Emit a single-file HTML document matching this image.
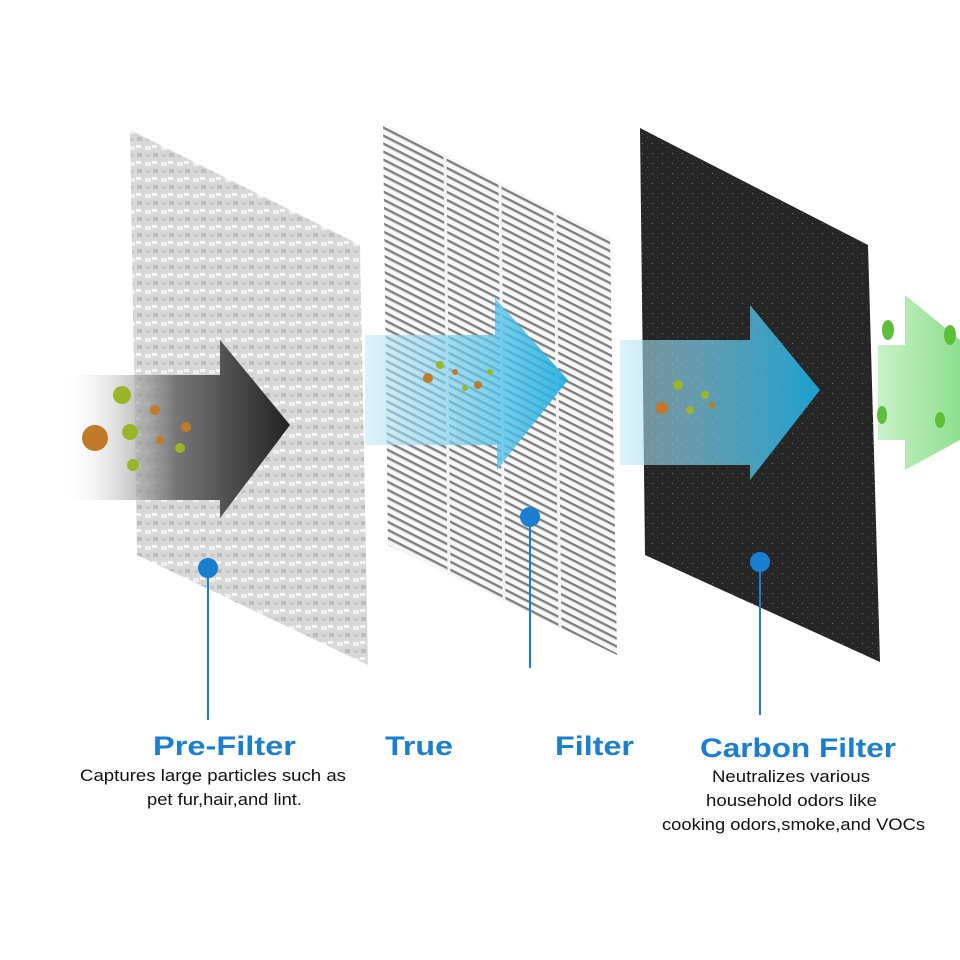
<!DOCTYPE html>
<html><head><meta charset="utf-8"><style>
body{margin:0;background:#fff}
svg{display:block}
text{font-family:"Liberation Sans",sans-serif}
</style></head><body>
<svg width="960" height="960" viewBox="0 0 960 960" xmlns="http://www.w3.org/2000/svg">
<defs>
<pattern id="slats" width="20" height="8" patternUnits="userSpaceOnUse" patternTransform="skewY(27)">
<rect width="20" height="8" fill="#f7f7f7"/>
<rect y="3" width="20" height="2" fill="#7a7a7a"/>
<rect y="5" width="20" height="1" fill="#b0b0b0"/>
</pattern>
<pattern id="noise" width="16" height="16" patternUnits="userSpaceOnUse">
<rect width="16" height="16" fill="#d8d8d8"/>
<rect x="1" y="2" width="6" height="4" fill="#efefef"/>
<rect x="9" y="9" width="5" height="4" fill="#bdbdbd"/>
<rect x="8" y="1" width="5" height="3" fill="#f5f5f5"/>
<rect x="2" y="10" width="4" height="3" fill="#c8c8c8"/>
</pattern>
<pattern id="carbon" width="10" height="10" patternUnits="userSpaceOnUse">
<rect width="10" height="10" fill="#262626"/>
<rect x="2" y="3" width="1" height="1" fill="#777"/>
<rect x="7" y="7" width="1" height="1" fill="#555"/>
</pattern>
<linearGradient id="blk" x1="0" x2="1"><stop offset="0" stop-color="#fff" stop-opacity="0"/><stop offset="0.5" stop-color="#777"/><stop offset="1" stop-color="#222"/></linearGradient>
<linearGradient id="blu" x1="0" x2="1"><stop offset="0" stop-color="#bfe8f7" stop-opacity="0.6"/><stop offset="1" stop-color="#19aee0"/></linearGradient>
<linearGradient id="grn" x1="0" x2="1"><stop offset="0" stop-color="#c8f0c8"/><stop offset="1" stop-color="#8ee08e"/></linearGradient>
</defs>

<polygon points="130,130 360,245 368,665 137,555" fill="url(#noise)"/>
<polygon points="60,375 220,375 220,340 290,425 220,518 220,500 60,500" fill="url(#blk)"/>
<g fill="#9bb52a"><circle cx="122" cy="395" r="9"/><circle cx="130" cy="432" r="8"/><circle cx="133" cy="465" r="6"/><circle cx="180" cy="448" r="5"/></g>
<g fill="#c07a2a"><circle cx="95" cy="438" r="13"/><circle cx="155" cy="410" r="5"/><circle cx="160" cy="440" r="4"/><circle cx="186" cy="427" r="5"/></g>

<polygon points="383,123 610,238 617,655 388,545" fill="url(#slats)"/>
<g stroke="#f4f4f4" stroke-width="3"><line x1="445" y1="154" x2="449" y2="575"/><line x1="500" y1="182" x2="504" y2="602"/><line x1="555" y1="210" x2="560" y2="628"/></g>
<polygon points="365,335 495,335 495,298 568,380 497,470 497,445 365,445" fill="url(#blu)" opacity="0.9"/>
<g fill="#c07a2a"><circle cx="428" cy="378" r="5"/><circle cx="478" cy="385" r="4"/><circle cx="455" cy="372" r="3"/></g>
<g fill="#9bb52a"><circle cx="440" cy="365" r="4"/><circle cx="465" cy="388" r="3"/><circle cx="490" cy="372" r="3"/></g>

<polygon points="640,128 868,245 880,662 645,555" fill="url(#carbon)"/>
<polygon points="620,340 750,340 750,305 820,390 750,480 750,465 620,465" fill="url(#blu)" opacity="0.9"/>
<g fill="#9bb52a"><circle cx="678" cy="385" r="5"/><circle cx="690" cy="410" r="4"/><circle cx="705" cy="395" r="4"/></g>
<g fill="#c07a2a"><circle cx="662" cy="408" r="6"/><circle cx="712" cy="405" r="3"/></g>

<polygon points="878,345 905,345 905,295 960,340 960,440 905,470 905,440 878,440" fill="url(#grn)"/>
<g fill="#5cbf3a"><ellipse cx="888" cy="330" rx="6" ry="10"/><ellipse cx="950" cy="335" rx="6" ry="10"/><ellipse cx="882" cy="415" rx="5" ry="9"/><ellipse cx="940" cy="420" rx="5" ry="8"/></g>

<g fill="#1a7fd0" stroke="#1a7fd0" stroke-width="2">
<circle cx="208" cy="568" r="9"/><line x1="208" y1="568" x2="208" y2="720"/>
<circle cx="530" cy="517" r="9"/><line x1="530" y1="517" x2="530" y2="668"/>
<circle cx="760" cy="562" r="9"/><line x1="760" y1="562" x2="760" y2="715"/>
</g>

<g fill="#1a7fd0" font-weight="bold" font-size="27">
<text x="153" y="755" textLength="143" lengthAdjust="spacingAndGlyphs">Pre-Filter</text>
<text x="385" y="755" textLength="68" lengthAdjust="spacingAndGlyphs">True</text>
<text x="555" y="755" textLength="79" lengthAdjust="spacingAndGlyphs">Filter</text>
<text x="700" y="757" textLength="196" lengthAdjust="spacingAndGlyphs">Carbon Filter</text>
</g>
<g fill="#111" font-size="17">
<text x="80" y="781" textLength="266" lengthAdjust="spacingAndGlyphs">Captures large particles such as</text>
<text x="147" y="805" textLength="155" lengthAdjust="spacingAndGlyphs">pet fur,hair,and lint.</text>
<text x="712" y="782" textLength="158" lengthAdjust="spacingAndGlyphs">Neutralizes various</text>
<text x="706" y="806" textLength="171" lengthAdjust="spacingAndGlyphs">household odors like</text>
<text x="662" y="830" textLength="263" lengthAdjust="spacingAndGlyphs">cooking odors,smoke,and VOCs</text>
</g>
</svg>
</body></html>
